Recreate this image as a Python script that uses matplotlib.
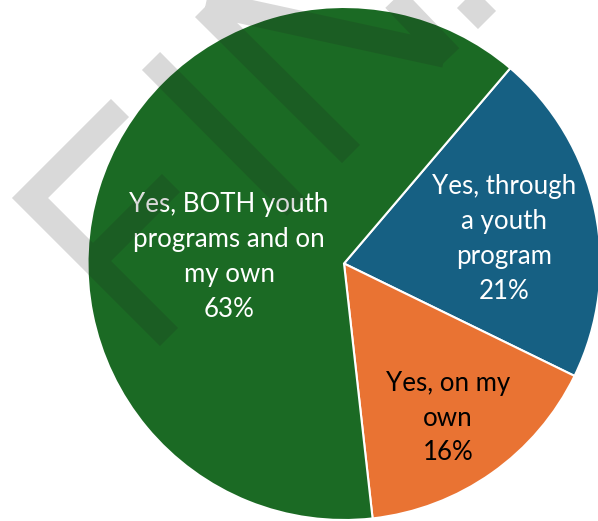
import matplotlib.pyplot as plt
from matplotlib.path import Path
from matplotlib.patches import PathPatch

plt.rcParams["font.family"] = ["Lato", "DejaVu Sans"]

# survey answers, drawn clockwise from the upper right
labels = ["Yes, through\na youth\nprogram", "Yes, on my\nown", "Yes, BOTH youth\nprograms and on\nmy own"]
shares = [21, 16, 63]
colors = ["#166083", "#E97333", "#1B6A24"]
text_colors = ["white", "black", "white"]

W, H = 598, 521
fig = plt.figure(figsize=(W / 100, H / 100), dpi=100)
ax = fig.add_axes([0, 0, 1, 1])

# pixel-style coordinates: y measured from the top of the image
def px(x, y):
    return x, H - y

cx, cy = px(344, 263.5)
radius = 256.5
wedges, _ = ax.pie(shares, colors=colors, startangle=49.6, counterclock=False,
                   center=(cx, cy), radius=radius, frame=True,
                   wedgeprops=dict(edgecolor="white", linewidth=1.5))
ax.set_xlim(0, W)
ax.set_ylim(0, H)
ax.set_aspect("equal")
ax.axis("off")

# label block centres
label_pos = [(504, 239), (448, 418), (229, 257)]
for lab, val, (x, y), tc in zip(labels, shares, label_pos, text_colors):
    ax.text(*px(x, y), f"{lab}\n{val}%", ha="center", va="center",
            multialignment="center", fontsize=18.6, linespacing=1.5,
            color=tc, zorder=4)

# translucent "draft" strokes laid over the chart
strokes = [
    [(120, 108), (30, 198), (169, 337)],
    [(171, 183), (93, 261)],
    [(151, 61), (296, 207)],
    [(351, 154), (204, 8)],
    [(206, 3), (445, 55)],
    [(385, -11), (450, 57)],
    [(487, 20), (455, -12)],
]
verts, codes = [], []
for s in strokes:
    for i, p in enumerate(s):
        verts.append(px(*p))
        codes.append(Path.MOVETO if i == 0 else Path.LINETO)
mark = PathPatch(Path(verts, codes), fill=False, edgecolor=(0.12, 0.12, 0.12, 0.17),
                 linewidth=18.4, joinstyle="miter", capstyle="butt", zorder=6)
ax.add_patch(mark)

fig.savefig("out.png", dpi=100)
